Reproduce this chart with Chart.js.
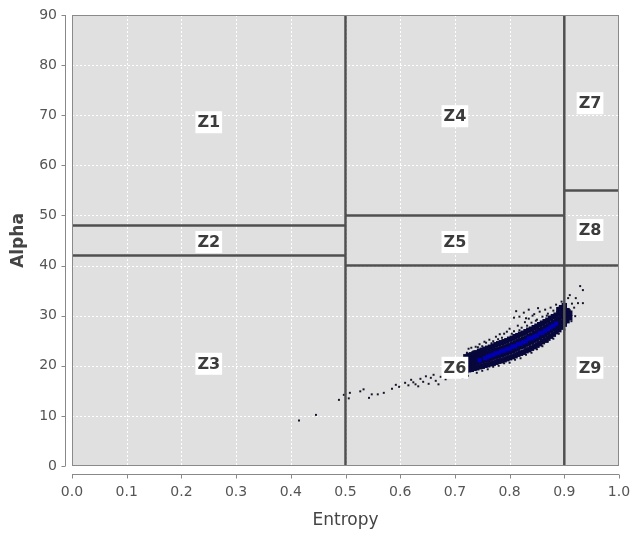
<!DOCTYPE html>
<html>
<head>
<meta charset="utf-8">
<script src="https://cdn.jsdelivr.net/npm/chart.js@4/dist/chart.umd.min.js"></script>
<style>
  html, body { margin: 0; background: #fff; }
</style>
</head>
<body>
<canvas id="myChart" width="632" height="533"></canvas>
<script>
// zone boundaries, each one [H1, A1, H2, A2]
const zoneLines = [
  [0.5, 0, 0.5, 90],
  [0.9, 0, 0.9, 90],
  [0.0, 48, 0.5, 48],
  [0.0, 42, 0.5, 42],
  [0.5, 50, 0.9, 50],
  [0.5, 40, 0.9, 40],
  [0.9, 55, 1.0, 55],
  [0.9, 40, 1.0, 40]
];

const zoneNames = ['Z1', 'Z2', 'Z3', 'Z4', 'Z5', 'Z6', 'Z7', 'Z8', 'Z9'];
const zoneH = [0.25, 0.25, 0.25, 0.70, 0.70, 0.70, 0.947, 0.947, 0.947];
const zoneA = [68.6, 44.7, 20.4, 69.8, 44.7, 19.6, 72.4, 47.1, 19.6];

// sparse pixels (tail and edges of the cloud)
const sparsePts = [
  [0.415, 9.1], [0.446, 10.2], [0.488, 13.2], [0.497, 14.2], [0.506, 13.5], [0.508, 14.6],
  [0.527, 14.9], [0.533, 15.3], [0.543, 13.6], [0.548, 14.3], [0.559, 14.3], [0.570, 14.6],
  [0.585, 15.4], [0.592, 16.2], [0.598, 15.8], [0.609, 16.6], [0.615, 16.1], [0.620, 17.2],
  [0.624, 16.7], [0.628, 16.3], [0.633, 15.9], [0.637, 17.4], [0.642, 16.8], [0.647, 17.9],
  [0.652, 16.4], [0.656, 17.6], [0.661, 18.2], [0.665, 17.0], [0.670, 16.3], [0.674, 17.8],
  [0.679, 18.6], [0.683, 17.3], [0.688, 18.9], [0.692, 17.8], [0.697, 19.3], [0.701, 18.4],
  [0.706, 19.7], [0.710, 18.9], [0.714, 17.6], [0.718, 20.2],
  [0.722, 22.6], [0.725, 23.4], [0.730, 23.6], [0.734, 22.9], [0.738, 23.8], [0.742, 23.7],
  [0.745, 24.3], [0.750, 23.9], [0.754, 24.8], [0.757, 24.6], [0.763, 25.2], [0.767, 24.5],
  [0.770, 24.9], [0.775, 25.8], [0.779, 25.3], [0.782, 26.3], [0.786, 25.6], [0.790, 26.4],
  [0.795, 26.8], [0.800, 27.4], [0.804, 26.4], [0.808, 26.9], [0.815, 28.0], [0.818, 27.1],
  [0.822, 27.6], [0.828, 28.7], [0.832, 28.0], [0.835, 29.4], [0.840, 28.6], [0.845, 30.3],
  [0.848, 29.0], [0.850, 29.2], [0.855, 30.8], [0.860, 29.8], [0.865, 31.2], [0.868, 30.0],
  [0.870, 30.4], [0.875, 31.6], [0.880, 31.0], [0.885, 32.2], [0.890, 31.6], [0.895, 32.8],
  [0.808, 29.6], [0.812, 30.9], [0.818, 29.8], [0.826, 30.6], [0.830, 29.5], [0.835, 31.2],
  [0.842, 30.0], [0.852, 31.5],
  [0.929, 35.9], [0.934, 35.1], [0.921, 33.5], [0.910, 34.1], [0.907, 33.5], [0.925, 32.5],
  [0.934, 32.5], [0.910, 31.1], [0.903, 29.9], [0.920, 29.9], [0.905, 28.7], [0.913, 28.9],
  [0.918, 31.6], [0.914, 32.4],
  [0.724, 18.0], [0.740, 18.6], [0.750, 19.0], [0.760, 19.3], [0.770, 19.8], [0.780, 20.0],
  [0.790, 20.5], [0.800, 20.6], [0.810, 21.2], [0.820, 21.5], [0.830, 22.2], [0.840, 22.6],
  [0.850, 23.3], [0.860, 23.9], [0.870, 24.8], [0.880, 25.4], [0.890, 26.4], [0.900, 27.2]
];

// main body of the cloud
const bandPts = [
  [0.720, 19.0], [0.720, 20.0], [0.720, 21.0], [0.720, 21.8],
  [0.725, 19.2], [0.725, 20.2], [0.725, 21.2], [0.725, 22.0],
  [0.730, 19.3], [0.730, 20.3], [0.730, 21.3], [0.730, 22.2],
  [0.735, 19.5], [0.735, 20.5], [0.735, 21.5], [0.735, 22.4],
  [0.740, 19.6], [0.740, 20.7], [0.740, 21.7], [0.740, 22.6],
  [0.745, 19.8], [0.745, 20.9], [0.745, 21.9], [0.745, 22.9],
  [0.750, 19.9], [0.750, 21.0], [0.750, 22.1], [0.750, 23.1],
  [0.755, 20.1], [0.755, 21.2], [0.755, 22.3], [0.755, 23.3],
  [0.760, 20.2], [0.760, 21.3], [0.760, 22.4], [0.760, 23.5],
  [0.765, 20.4], [0.765, 21.5], [0.765, 22.6], [0.765, 23.7],
  [0.770, 20.5], [0.770, 21.7], [0.770, 22.8], [0.770, 23.9],
  [0.775, 20.7], [0.775, 21.9], [0.775, 23.0], [0.775, 24.2],
  [0.780, 20.9], [0.780, 22.0], [0.780, 23.2], [0.780, 24.4],
  [0.785, 21.0], [0.785, 22.2], [0.785, 23.4], [0.785, 24.6],
  [0.790, 21.2], [0.790, 22.4], [0.790, 23.6], [0.790, 24.8],
  [0.795, 21.4], [0.795, 22.6], [0.795, 23.8], [0.795, 25.0],
  [0.800, 21.6], [0.800, 22.8], [0.800, 24.0], [0.800, 25.3],
  [0.805, 21.8], [0.805, 23.0], [0.805, 24.3], [0.805, 25.5],
  [0.810, 22.0], [0.810, 23.3], [0.810, 24.5], [0.810, 25.8],
  [0.815, 22.3], [0.815, 23.5], [0.815, 24.8], [0.815, 26.0],
  [0.820, 22.5], [0.820, 23.8], [0.820, 25.0], [0.820, 26.3],
  [0.825, 22.7], [0.825, 24.0], [0.825, 25.3], [0.825, 26.5],
  [0.830, 23.0], [0.830, 24.3], [0.830, 25.5], [0.830, 26.8],
  [0.835, 23.2], [0.835, 24.5], [0.835, 25.8], [0.835, 27.1],
  [0.840, 23.5], [0.840, 24.8], [0.840, 26.1], [0.840, 27.3],
  [0.845, 23.8], [0.845, 25.1], [0.845, 26.4], [0.845, 27.6],
  [0.850, 24.1], [0.850, 25.4], [0.850, 26.7], [0.850, 27.9],
  [0.855, 24.4], [0.855, 25.7], [0.855, 27.0], [0.855, 28.2],
  [0.860, 24.8], [0.860, 26.0], [0.860, 27.3], [0.860, 28.5],
  [0.865, 25.1], [0.865, 26.3], [0.865, 27.6], [0.865, 28.8],
  [0.870, 25.5], [0.870, 26.7], [0.870, 27.9], [0.870, 29.1],
  [0.875, 25.9], [0.875, 27.1], [0.875, 28.3], [0.875, 29.5],
  [0.880, 26.3], [0.880, 27.4], [0.880, 28.6], [0.880, 29.8],
  [0.885, 26.8], [0.885, 27.8], [0.885, 29.0], [0.885, 30.1],
  [0.890, 27.2], [0.890, 28.2], [0.890, 29.3], [0.890, 30.4], [0.890, 31.2],
  [0.895, 27.7], [0.895, 28.7], [0.895, 29.8], [0.895, 30.8], [0.895, 31.6],
  [0.900, 28.3], [0.900, 29.2], [0.900, 30.2], [0.900, 31.2], [0.900, 32.0],
  [0.905, 29.0], [0.905, 30.0], [0.905, 31.0],
  [0.910, 29.6], [0.910, 30.5]
];

// denser centre, drawn bluer
const corePts = [
  [0.745, 21.1], [0.755, 21.5], [0.760, 21.8], [0.765, 22.0], [0.770, 22.2], [0.775, 22.5],
  [0.780, 22.6], [0.785, 22.9], [0.790, 23.0], [0.795, 23.3], [0.800, 23.4], [0.805, 23.8],
  [0.810, 23.9], [0.815, 24.3], [0.820, 24.4], [0.825, 24.7], [0.830, 24.9], [0.835, 25.4],
  [0.840, 25.5], [0.845, 25.8], [0.850, 26.0], [0.855, 26.5], [0.860, 26.6], [0.865, 27.0],
  [0.870, 27.3], [0.875, 27.7], [0.880, 28.0], [0.885, 28.4]
];

const xTicks = [0, 0.1, 0.2, 0.3, 0.4, 0.5, 0.6, 0.7, 0.8, 0.9, 1.0];
const yTicks = [0, 10, 20, 30, 40, 50, 60, 70, 80, 90];

const toXY = p => ({ x: p[0], y: p[1] });
const lineSets = zoneLines.map(l => ({
  type: 'line',
  data: [{ x: l[0], y: l[1] }, { x: l[2], y: l[3] }],
  borderColor: '#505050',
  borderWidth: 2.5,
  pointRadius: 0,
  showLine: true,
  fill: false
}));

const plotLook = {
  id: 'plotLook',
  beforeDraw(chart) {
    const { ctx, chartArea: a } = chart;
    ctx.save();
    ctx.fillStyle = '#fff';
    ctx.fillRect(0, 0, chart.width, chart.height);
    ctx.fillStyle = '#e0e0e0';
    ctx.fillRect(a.left, a.top, a.right - a.left, a.bottom - a.top);
    ctx.restore();
  },
  beforeDatasetsDraw(chart) {
    const { ctx, chartArea: a, scales } = chart;
    ctx.save();
    ctx.strokeStyle = '#ffffff';
    ctx.lineWidth = 1;
    ctx.setLineDash([2, 2]);
    xTicks.forEach(v => {
      const px = Math.round(scales.x.getPixelForValue(v)) + 0.5;
      ctx.beginPath(); ctx.moveTo(px, a.top); ctx.lineTo(px, a.bottom); ctx.stroke();
    });
    yTicks.forEach(v => {
      const py = Math.round(scales.y.getPixelForValue(v)) + 0.5;
      ctx.beginPath(); ctx.moveTo(a.left, py); ctx.lineTo(a.right, py); ctx.stroke();
    });
    ctx.restore();
  },
  afterDatasetsDraw(chart) {
    const { ctx, chartArea: a, scales } = chart;
    ctx.save();
    // zone labels
    ctx.font = 'bold 16px "DejaVu Sans"';
    ctx.textAlign = 'center';
    ctx.textBaseline = 'middle';
    zoneNames.forEach((n, i) => {
      const px = scales.x.getPixelForValue(zoneH[i]);
      const py = scales.y.getPixelForValue(zoneA[i]);
      const w = ctx.measureText(n).width + 4;
      ctx.fillStyle = '#fff';
      ctx.fillRect(px - w / 2, py - 11, w, 22);
      ctx.fillStyle = '#3c3c3c';
      ctx.fillText(n, px, py + 1);
    });
    // plot outline
    ctx.strokeStyle = '#8a8a8a';
    ctx.lineWidth = 1;
    ctx.strokeRect(a.left + 0.5, a.top + 0.5, a.right - a.left - 1, a.bottom - a.top - 1);
    ctx.restore();
  },
  afterDraw(chart) {
    const { ctx, chartArea: a, scales } = chart;
    ctx.save();
    ctx.strokeStyle = '#888';
    ctx.lineWidth = 1;
    // y axis, set off from the plot
    const ax = a.left - 6.5;
    ctx.beginPath(); ctx.moveTo(ax, a.top); ctx.lineTo(ax, a.bottom); ctx.stroke();
    yTicks.forEach(v => {
      const py = Math.round(scales.y.getPixelForValue(v)) + 0.5;
      ctx.beginPath(); ctx.moveTo(ax - 4, py); ctx.lineTo(ax, py); ctx.stroke();
    });
    // x axis
    const ay = a.bottom + 8.5;
    ctx.beginPath(); ctx.moveTo(a.left, ay); ctx.lineTo(a.right, ay); ctx.stroke();
    xTicks.forEach(v => {
      const px = Math.round(scales.x.getPixelForValue(v)) + 0.5;
      ctx.beginPath(); ctx.moveTo(px, ay); ctx.lineTo(px, ay + 4); ctx.stroke();
    });
    ctx.restore();
  }
};

const ctx = document.getElementById('myChart');

new Chart(ctx, {
  type: 'scatter',
  data: {
    datasets: [
      ...lineSets,
      {
        label: 'core',
        data: corePts.map(toXY),
        backgroundColor: '#0000b0',
        pointStyle: 'rect',
        pointRadius: 3,
        borderWidth: 0
      },
      {
        label: 'band',
        data: bandPts.map(toXY),
        backgroundColor: '#07073c',
        pointStyle: 'rect',
        pointRadius: 3.8,
        borderWidth: 0
      },
      {
        label: 'sparse',
        data: sparsePts.map(toXY),
        backgroundColor: '#14142a',
        pointStyle: 'rect',
        pointRadius: 1.4,
        borderWidth: 0
      }
    ]
  },
  options: {
    responsive: false,
    animation: false,
    events: [],
    layout: { padding: { top: 15, right: 13, left: 0, bottom: 0 } },
    plugins: {
      legend: { display: false },
      tooltip: { enabled: false }
    },
    scales: {
      x: {
        type: 'linear',
        min: 0,
        max: 1,
        afterFit: s => { s.height = 67; s.paddingLeft = 0; s.paddingRight = 0; },
        afterBuildTicks: s => { s.ticks = xTicks.map(v => ({ value: v })); },
        grid: { display: false, drawTicks: false },
        border: { display: false },
        ticks: {
          color: '#555',
          font: { family: 'DejaVu Sans', size: 14 },
          padding: 18,
          maxRotation: 0,
          callback: v => v.toFixed(1)
        },
        title: {
          display: true,
          text: 'Entropy',
          color: '#444',
          font: { family: 'DejaVu Sans', size: 17 },
          padding: { top: 0, bottom: 2 }
        }
      },
      y: {
        type: 'linear',
        min: 0,
        max: 90,
        afterFit: s => { s.width = 72; s.paddingTop = 0; s.paddingBottom = 0; },
        afterBuildTicks: s => { s.ticks = yTicks.map(v => ({ value: v })); },
        grid: { display: false, drawTicks: false },
        border: { display: false },
        ticks: {
          color: '#555',
          font: { family: 'DejaVu Sans', size: 14 },
          padding: 15
        },
        title: {
          display: true,
          text: 'Alpha',
          color: '#444',
          font: { family: 'DejaVu Sans', size: 17, weight: 'bold' },
          padding: { top: 8, bottom: 0 }
        }
      }
    }
  },
  plugins: [plotLook]
});
</script>
</body>
</html>
